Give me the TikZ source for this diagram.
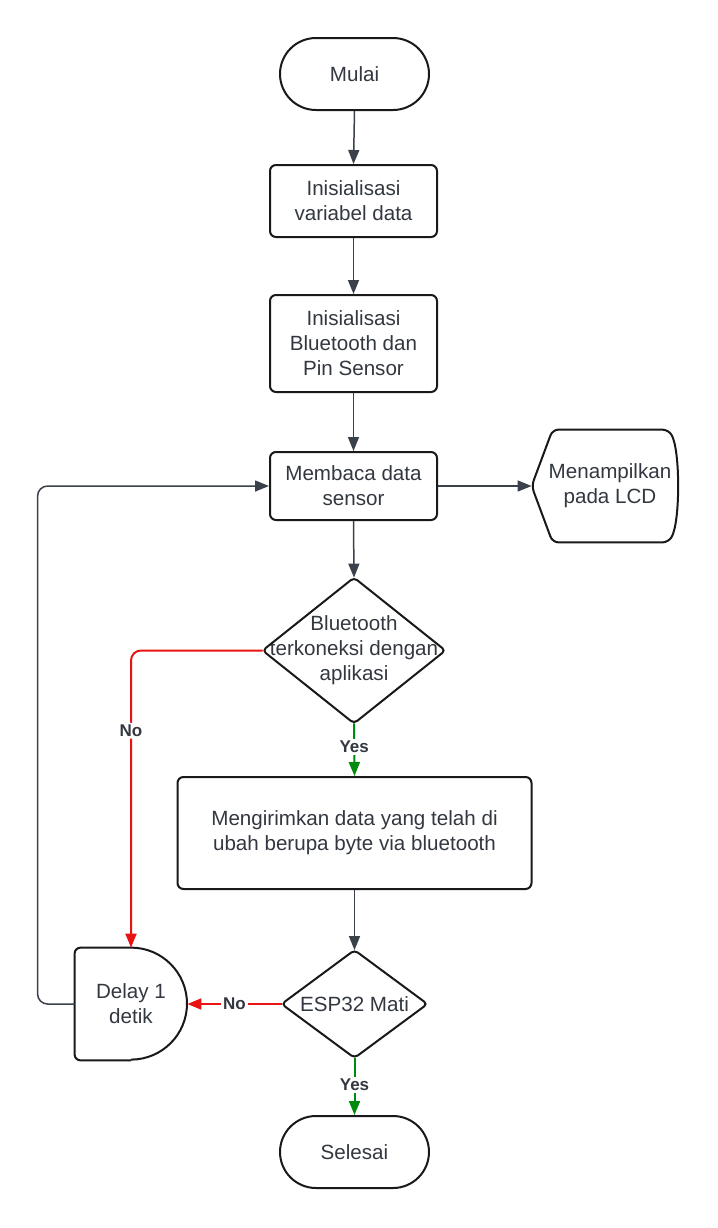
\documentclass[tikz,border=0pt]{standalone}
\usepackage{fontspec}
\setmainfont{Liberation Sans}
\usetikzlibrary{arrows.meta,calc}
\definecolor{ln}{HTML}{3A414A}
\definecolor{rd}{HTML}{E81313}
\definecolor{gr}{HTML}{008A0E}
\definecolor{tx}{HTML}{333840}
\begin{document}
\begin{tikzpicture}[x=0.5pt,y=-0.5pt,
  every node/.style={font=\fontsize{10.3}{12.5}\selectfont, text=tx, align=center, inner sep=0pt},
  shp/.style={draw=black!90, line width=1pt, rounded corners=3pt},
  term/.style={shp, rounded corners=18pt, minimum width=74.5pt, minimum height=36pt},
  proc/.style={shp, minimum width=83.5pt},
  blank/.style={draw=none},
  conn/.style={draw=ln, line width=0.75pt, -{Triangle[length=7pt,width=5.5pt]}},
  noc/.style={conn, draw=rd, line width=1pt},
  yesc/.style={conn, draw=gr, line width=1pt},
  lab/.style={font=\fontsize{8.5}{10}\selectfont\bfseries, fill=white, inner sep=1pt}
]
\useasboundingbox[fill=white] (0,0) rectangle (718,1228);

\node[term] (start) at (354.5,74) {Mulai};
\node[proc, minimum height=36pt] (b1) at (353.5,201) {Inisialisasi\\variabel data};
\node[proc, minimum height=48.5pt] (b2) at (353.5,343.5) {Inisialisasi\\Bluetooth dan\\Pin Sensor};
\node[proc, minimum height=34pt] (b3) at (353.5,486) {Membaca data\\sensor};
\node[blank, minimum width=73pt, minimum height=56pt] (lcd) at (605,486) {\hspace*{5pt}Menampilkan\\\hspace*{5pt}pada LCD};
\node[blank, minimum width=91pt, minimum height=72.5pt] (d1) at (354,650.5) {Bluetooth\\terkoneksi dengan\\aplikasi};
\node[shp, minimum width=177pt, minimum height=56pt] (b4) at (354.5,833) {Mengirimkan data yang telah di\\ubah berupa byte via bluetooth};
\node[blank, minimum width=72.5pt, minimum height=53.5pt] (d2) at (354.5,1004) {ESP32 Mati};
\node[blank, minimum width=56pt, minimum height=56pt] (dl) at (131,1004) {Delay 1\\detik};
\node[term] (end) at (354.5,1152) {Selesai};

% custom shapes
\draw[shp] (lcd.west) -- ($(lcd.north west)+(21,0)$) -- ($(lcd.north east)+(-10,0)$)
  .. controls ($(lcd.north east)+(2,20)$) and ($(lcd.south east)+(2,-20)$) .. ($(lcd.south east)+(-10,0)$)
  -- ($(lcd.south west)+(21,0)$) -- cycle;
\draw[shp, rounded corners=2pt] (d1.north) -- (d1.east) -- (d1.south) -- (d1.west) -- cycle;
\draw[shp, rounded corners=2pt] (d2.north) -- (d2.east) -- (d2.south) -- (d2.west) -- cycle;
\draw[draw=black!90, line width=1pt] (dl.north) arc[start angle=90, end angle=-90, radius=28pt];
\draw[shp] (dl.south) -- (dl.south west) -- (dl.north west) -- (dl.north);

% connectors
\draw[conn] (start.south) -- (b1.north);
\draw[conn] (b1.south) -- (b2.north);
\draw[conn] (b2.south) -- (b3.north);
\draw[conn] (b3.east) -- (lcd.west);
\draw[conn] (b3.south) -- (d1.north);
\draw[yesc] (d1.south) -- node[lab, pos=0.45] {Yes} (b4.north);
\draw[noc, rounded corners=5pt] (d1.west) -| node[lab, pos=0.635] {No} (dl.north);
\draw[conn] (b4.south) -- (d2.north);
\draw[noc] (d2.west) -- node[lab, pos=0.5] {No} (dl.east);
\draw[yesc] (d2.south) -- node[lab, pos=0.47] {Yes} (end.north);
\draw[conn, rounded corners=5pt] (dl.west) -- ++(-37,0) |- (b3.west);
\end{tikzpicture}
\end{document}
